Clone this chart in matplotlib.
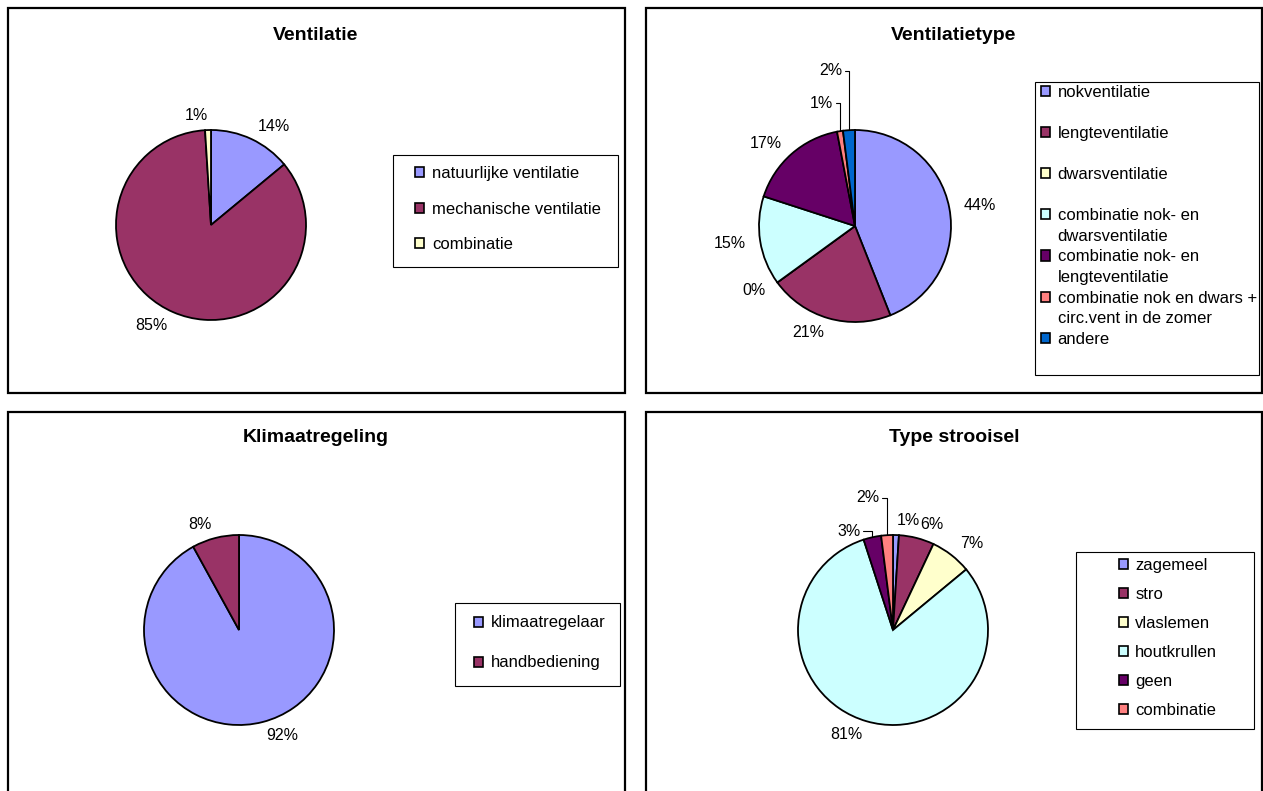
import numpy as np
import matplotlib
matplotlib.use('Agg')
import matplotlib.pyplot as plt
from matplotlib.patches import Rectangle, Patch

plt.rcParams['font.family'] = ['Liberation Sans', 'DejaVu Sans']

W, H = 1263, 791

# ---------------- data ----------------
vent_title = 'Ventilatie'
vent_labels = ['natuurlijke ventilatie', 'mechanische ventilatie', 'combinatie']
vent_values = [14, 85, 1]

vtype_title = 'Ventilatietype'
vtype_labels = ['nokventilatie', 'lengteventilatie', 'dwarsventilatie',
                'combinatie nok- en\ndwarsventilatie',
                'combinatie nok- en\nlengteventilatie',
                'combinatie nok en dwars +\ncirc.vent in de zomer',
                'andere']
vtype_values = [44, 21, 0, 15, 17, 1, 2]

klim_title = 'Klimaatregeling'
klim_labels = ['klimaatregelaar', 'handbediening']
klim_values = [92, 8]

stro_title = 'Type strooisel'
stro_labels = ['zagemeel', 'stro', 'vlaslemen', 'houtkrullen', 'geen', 'combinatie']
stro_values = [1, 6, 7, 81, 3, 2]

palette = ['#9999FF', '#993366', '#FFFFCC', '#CCFFFF', '#660066', '#FF8080', '#0066CC']

fig = plt.figure(figsize=(W / 100, H / 100), dpi=100)
fig.patch.set_facecolor('white')


def fx(x):
    return x / W


def fy(y):
    return 1 - y / H


def panel(x0, y0, x1, y1):
    fig.patches.append(Rectangle((fx(x0), fy(y1)), (x1 - x0) / W, (y1 - y0) / H,
                                 transform=fig.transFigure, fill=False,
                                 edgecolor='black', lw=1.6, clip_on=False))


def title(text, x, y):
    fig.text(fx(x), fy(y), text, ha='center', va='baseline',
             fontsize=14, fontweight='bold')


L = 1.8
PCT_FS = 11.5
LEG_FS = 12


def pie(values, colors, cx, cy, r):
    ax = fig.add_axes([fx(cx - L * r), fy(cy + L * r), 2 * L * r / W, 2 * L * r / H])
    wedges, texts = ax.pie(values, colors=colors, startangle=90, counterclock=False,
                           labels=[f'{v}%' for v in values], labeldistance=1.15,
                           wedgeprops=dict(edgecolor='black', linewidth=1.3),
                           textprops=dict(fontsize=PCT_FS, color='black'))
    ax.set_xlim(-L, L)
    ax.set_ylim(-L, L)
    ax.set_aspect('equal')
    ax.axis('off')
    return ax, wedges, texts


def leader(ax, wedge, txt, pos):
    t = np.deg2rad((wedge.theta1 + wedge.theta2) / 2)
    ex, ey = np.cos(t), np.sin(t)
    txt.set_visible(False)
    ax.annotate(txt.get_text(), xy=(ex, ey), xytext=pos, ha='right', va='center',
                fontsize=PCT_FS, color='black',
                arrowprops=dict(arrowstyle='-', color='black', lw=0.8,
                                shrinkA=0, shrinkB=0, relpos=(1, 0.5),
                                connectionstyle='angle,angleA=0,angleB=90,rad=0'))


def legend(labels, colors, box, center, spacing, two_row=False):
    x0, y0, x1, y1 = box
    fig.patches.append(Rectangle((fx(x0), fy(y1)), (x1 - x0) / W, (y1 - y0) / H,
                                 transform=fig.transFigure, fill=False,
                                 edgecolor='black', lw=0.8))
    handles, texts = [], []
    for lab, c in zip(labels, colors):
        lines = lab.split('\n') if two_row else [lab]
        if two_row and len(lines) == 1:
            lines.append(' ')
        handles.append(Patch(facecolor=c, edgecolor='black', lw=1.2))
        texts.append(lines[0])
        for ln in lines[1:]:
            handles.append(Patch(facecolor='none', edgecolor='none'))
            texts.append(ln)
    fig.legend(handles, texts, loc='center',
               bbox_to_anchor=(fx(center[0]), fy(center[1])),
               bbox_transform=fig.transFigure, frameon=False, fontsize=LEG_FS,
               labelspacing=spacing, handlelength=0.55, handleheight=0.55,
               handletextpad=0.45, borderpad=0, borderaxespad=0)


# panels
panel(8, 8, 625, 393)
panel(646, 8, 1262, 393)
panel(8, 412, 625, 820)
panel(646, 412, 1262, 820)

# ---- Ventilatie ----
title(vent_title, 316, 40)
ax1, w1, t1 = pie(vent_values, palette[:3], 211, 225, 95)
legend(vent_labels, palette[:3], (393, 155, 618, 267), (508, 209), 1.23)

# ---- Ventilatietype ----
title(vtype_title, 954, 40)
ax2, w2, t2 = pie(vtype_values, palette[:7], 855, 226, 96)
leader(ax2, w2[5], t2[5], (-0.23, 1.28))
leader(ax2, w2[6], t2[6], (-0.13, 1.615))
legend(vtype_labels, palette[:7], (1035, 82, 1259, 375), (1149, 226), 0.335, two_row=True)

# ---- Klimaatregeling ----
title(klim_title, 316, 442)
ax3, w3, t3 = pie(klim_values, palette[:2], 239, 630, 95)
legend(klim_labels, palette[:2], (455, 603, 620, 686), (540, 643), 1.50)

# ---- Type strooisel ----
title(stro_title, 954, 442)
ax4, w4, t4 = pie(stro_values, palette[:6], 893, 630, 95)
leader(ax4, w4[4], t4[4], (-0.34, 1.04))
leader(ax4, w4[5], t4[5], (-0.14, 1.39))
legend(stro_labels, palette[:6], (1076, 552, 1254, 729), (1168, 638), 0.84)

fig.savefig('out.png', dpi=100, facecolor='white')
